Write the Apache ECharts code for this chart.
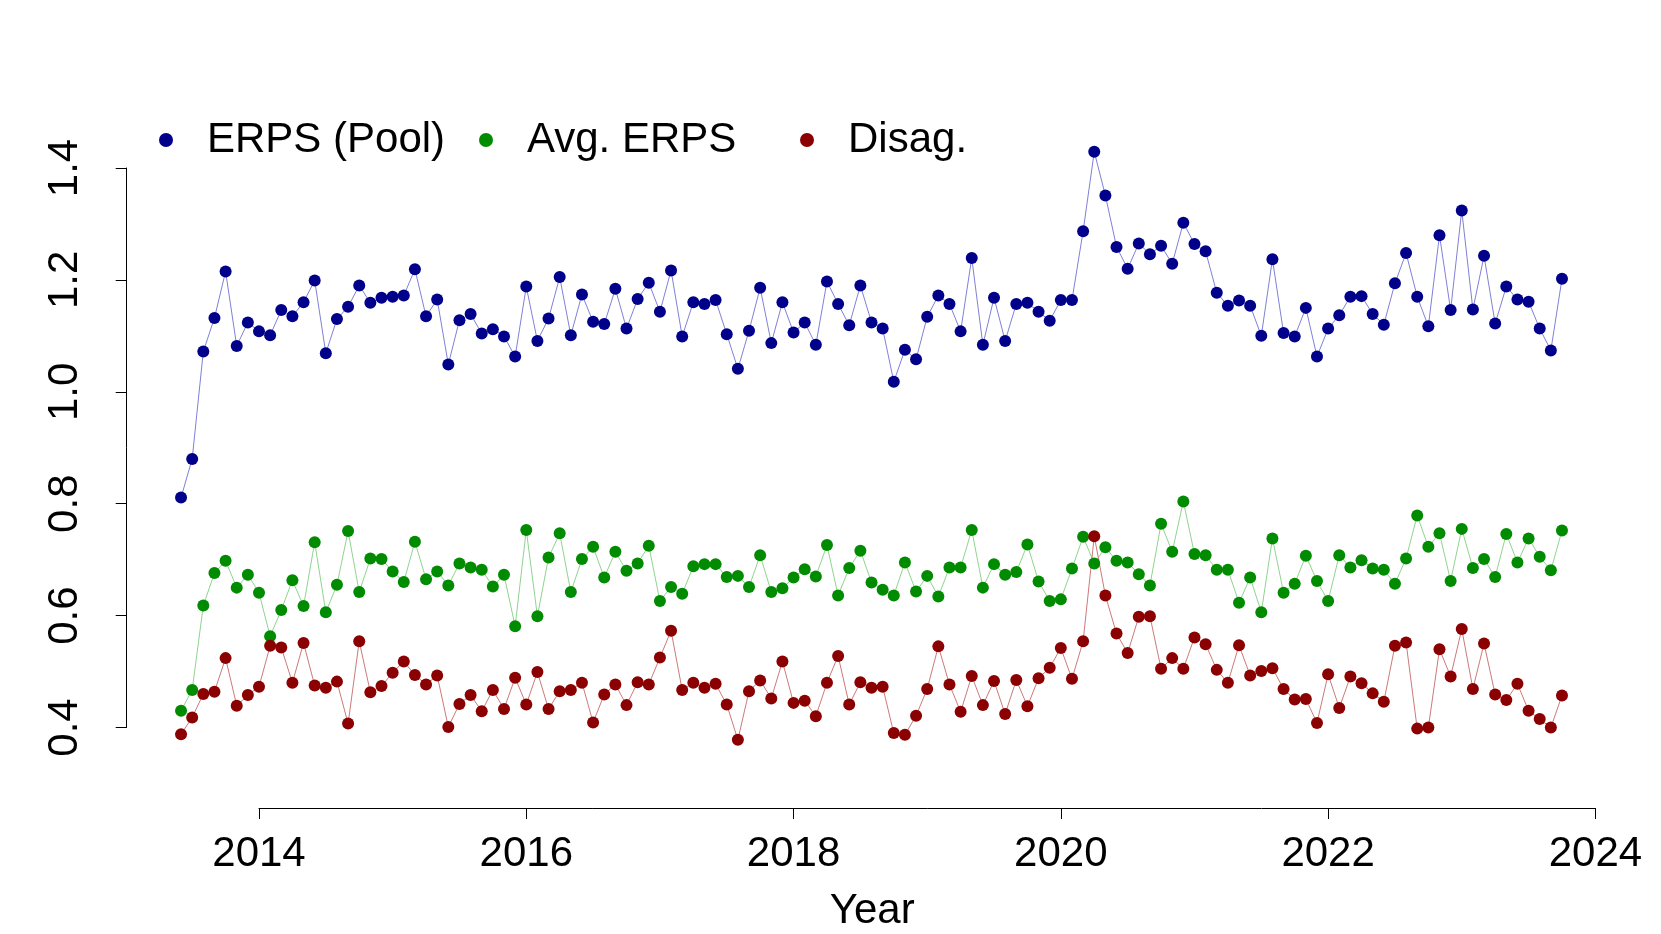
<!DOCTYPE html>
<html>
<head>
<meta charset="utf-8">
<script src="https://cdn.jsdelivr.net/npm/echarts@6/dist/echarts.min.js"></script>
<style>
  html, body { margin: 0; padding: 0; background: #fff; }
  #chart { width: 1661px; height: 934px; }
</style>
</head>
<body>
<div id="chart"></div>
<script>
  // monthly series, first obs 2013 + 5/12
  var startYear = 2013, startMonth = 5;

  var erpsPool = [0.811, 0.880, 1.072, 1.132, 1.215, 1.082, 1.124, 1.108, 1.101, 1.146,
    1.135, 1.160, 1.199, 1.069, 1.130, 1.152, 1.190, 1.159, 1.168, 1.170,
    1.172, 1.219, 1.135, 1.165, 1.049, 1.128, 1.139, 1.104, 1.112, 1.099,
    1.063, 1.188, 1.091, 1.131, 1.205, 1.101, 1.174, 1.125, 1.121, 1.184,
    1.113, 1.166, 1.195, 1.143, 1.217, 1.099, 1.160, 1.157, 1.164, 1.103,
    1.041, 1.109, 1.186, 1.087, 1.160, 1.106, 1.124, 1.084, 1.197, 1.157,
    1.119, 1.190, 1.124, 1.113, 1.018, 1.075, 1.058, 1.134, 1.172, 1.157,
    1.108, 1.239, 1.084, 1.168, 1.091, 1.157, 1.159, 1.143, 1.127, 1.164,
    1.164, 1.287, 1.429, 1.351, 1.259, 1.220, 1.265, 1.246, 1.261, 1.229,
    1.302, 1.264, 1.251, 1.177, 1.154, 1.163, 1.154, 1.100, 1.237, 1.105,
    1.099, 1.150, 1.063, 1.113, 1.137, 1.170, 1.171, 1.139, 1.120, 1.194,
    1.248, 1.170, 1.117, 1.280, 1.146, 1.324, 1.147, 1.243, 1.122, 1.188,
    1.165, 1.161, 1.113, 1.074, 1.202];

  var avgErps = [0.430, 0.467, 0.618, 0.676, 0.698, 0.650, 0.673, 0.641, 0.563, 0.610,
    0.663, 0.617, 0.731, 0.606, 0.655, 0.751, 0.642, 0.702, 0.701, 0.679,
    0.660, 0.732, 0.665, 0.679, 0.654, 0.693, 0.686, 0.682, 0.652, 0.673,
    0.581, 0.753, 0.599, 0.704, 0.747, 0.642, 0.701, 0.723, 0.668, 0.714,
    0.680, 0.693, 0.725, 0.626, 0.651, 0.639, 0.688, 0.692, 0.692, 0.669,
    0.671, 0.651, 0.708, 0.642, 0.649, 0.668, 0.683, 0.670, 0.726, 0.636,
    0.685, 0.716, 0.659, 0.646, 0.636, 0.695, 0.643, 0.671, 0.634, 0.686,
    0.686, 0.753, 0.650, 0.692, 0.673, 0.678, 0.727, 0.661, 0.626, 0.629,
    0.684, 0.741, 0.693, 0.722, 0.698, 0.695, 0.674, 0.654, 0.764, 0.714,
    0.804, 0.710, 0.708, 0.682, 0.682, 0.623, 0.668, 0.606, 0.738, 0.641,
    0.657, 0.707, 0.662, 0.626, 0.708, 0.686, 0.699, 0.684, 0.682, 0.657,
    0.702, 0.779, 0.723, 0.747, 0.662, 0.755, 0.685, 0.701, 0.669, 0.746,
    0.695, 0.738, 0.705, 0.681, 0.752];

  var disag = [0.388, 0.418, 0.460, 0.464, 0.524, 0.439, 0.458, 0.473, 0.546, 0.543,
    0.480, 0.551, 0.475, 0.471, 0.482, 0.407, 0.554, 0.463, 0.474, 0.498,
    0.518, 0.494, 0.477, 0.493, 0.401, 0.442, 0.458, 0.429, 0.467, 0.433,
    0.489, 0.441, 0.499, 0.433, 0.465, 0.467, 0.480, 0.409, 0.459, 0.477,
    0.440, 0.481, 0.477, 0.525, 0.573, 0.467, 0.480, 0.471, 0.478, 0.441,
    0.378, 0.465, 0.484, 0.452, 0.518, 0.444, 0.448, 0.420, 0.480, 0.528,
    0.441, 0.481, 0.471, 0.473, 0.390, 0.387, 0.421, 0.469, 0.545, 0.477,
    0.428, 0.492, 0.440, 0.483, 0.424, 0.485, 0.438, 0.488, 0.507, 0.542,
    0.487, 0.554, 0.742, 0.636, 0.568, 0.533, 0.598, 0.599, 0.505, 0.524,
    0.505, 0.561, 0.549, 0.503, 0.480, 0.547, 0.493, 0.501, 0.506, 0.469,
    0.450, 0.451, 0.408, 0.495, 0.435, 0.491, 0.479, 0.461, 0.446, 0.546,
    0.552, 0.398, 0.400, 0.540, 0.491, 0.576, 0.469, 0.550, 0.459, 0.449,
    0.478, 0.430, 0.415, 0.400, 0.457];

  var xTicks = [2014, 2016, 2018, 2020, 2022, 2024];
  var yTicks = [0.4, 0.6, 0.8, 1.0, 1.2, 1.4];

  var names = ['ERPS (Pool)', 'Avg. ERPS', 'Disag.'];

  // decimal year of each observation
  var years = erpsPool.map(function (v, i) { return startYear + (startMonth + i) / 12; });

  function pairs(vals) {
    return vals.map(function (v, i) { return [years[i], v]; });
  }

  var font = 'Liberation Sans, Arial, Helvetica, sans-serif';

  // px per unit, taken from the tick positions
  var pxYear = (1595.4 - 259) / 10;
  var pxUnit = (727.5 - 168) / 1.0;

  function mkSeries(name, values, dot, line) {
    return {
      name: name,
      type: 'line',
      xAxisIndex: 0,
      yAxisIndex: 0,
      data: pairs(values),
      symbol: 'circle',
      symbolSize: 12,
      showAllSymbol: true,
      itemStyle: { color: dot, borderWidth: 0 },
      lineStyle: { color: line, width: 1 },
      emphasis: { disabled: true },
      animation: false
    };
  }

  function mkLegend(name, left) {
    return {
      data: [name],
      left: left,
      top: 119,
      padding: 0,
      icon: 'circle',
      itemWidth: 72,
      itemHeight: 14,
      selectedMode: false,
      textStyle: { fontSize: 42, color: '#000', fontFamily: font }
    };
  }

  var chart = echarts.init(document.getElementById('chart'));
  chart.setOption({
    backgroundColor: '#fff',
    animation: false,
    legend: [mkLegend(names[0], 159), mkLegend(names[1], 479), mkLegend(names[2], 800)],
    grid: [
      // plot region (data)
      { left: 259 - pxYear, right: 1661 - (1595.4 + 0.2 * pxYear),
        top: 168 - 0.1 * pxUnit, bottom: 934 - (727.5 + 0.1 * pxUnit),
        containLabel: false, outerBoundsMode: 'none' },
      // tick span, used for the R-style axes
      { left: 259, right: 1661 - 1595.4, top: 168, bottom: 934 - 727.5,
        containLabel: false, outerBoundsMode: 'none' }
    ],
    xAxis: [
      { type: 'value', gridIndex: 0, min: 2013, max: 2024.2, show: false },
      {
        type: 'value',
        gridIndex: 1,
        min: xTicks[0],
        max: xTicks[xTicks.length - 1],
        interval: 2,
        offset: 80.5,
        name: 'Year',
        nameLocation: 'middle',
        nameGap: 82,
        nameTextStyle: { fontSize: 42, color: '#000', fontFamily: font, padding: [0, 110, 0, 0] },
        axisLine: { show: true, lineStyle: { color: '#000', width: 1 } },
        axisTick: { show: true, length: 11, lineStyle: { color: '#000' } },
        axisLabel: { fontSize: 42, color: '#000', fontFamily: font, margin: 25,
          formatter: function (v) { return String(v); } },
        splitLine: { show: false }
      }
    ],
    yAxis: [
      { type: 'value', gridIndex: 0, min: 0.3, max: 1.5, show: false },
      {
        type: 'value',
        gridIndex: 1,
        min: yTicks[0],
        max: yTicks[yTicks.length - 1],
        interval: 0.2,
        offset: 132.3,
        axisLine: { show: true, lineStyle: { color: '#000', width: 1 } },
        axisTick: { show: true, length: 11, lineStyle: { color: '#000' } },
        axisLabel: {
          fontSize: 42, color: '#000', fontFamily: font, rotate: 90, margin: 40,
          formatter: function (v) { return v.toFixed(1); }
        },
        splitLine: { show: false }
      }
    ],
    series: [
      mkSeries(names[0], erpsPool, '#00008B', '#8080D8'),
      mkSeries(names[1], avgErps, '#008B00', '#8FD48F'),
      mkSeries(names[2], disag, '#8B0000', '#CC7A7A')
    ]
  });
</script>
</body>
</html>
